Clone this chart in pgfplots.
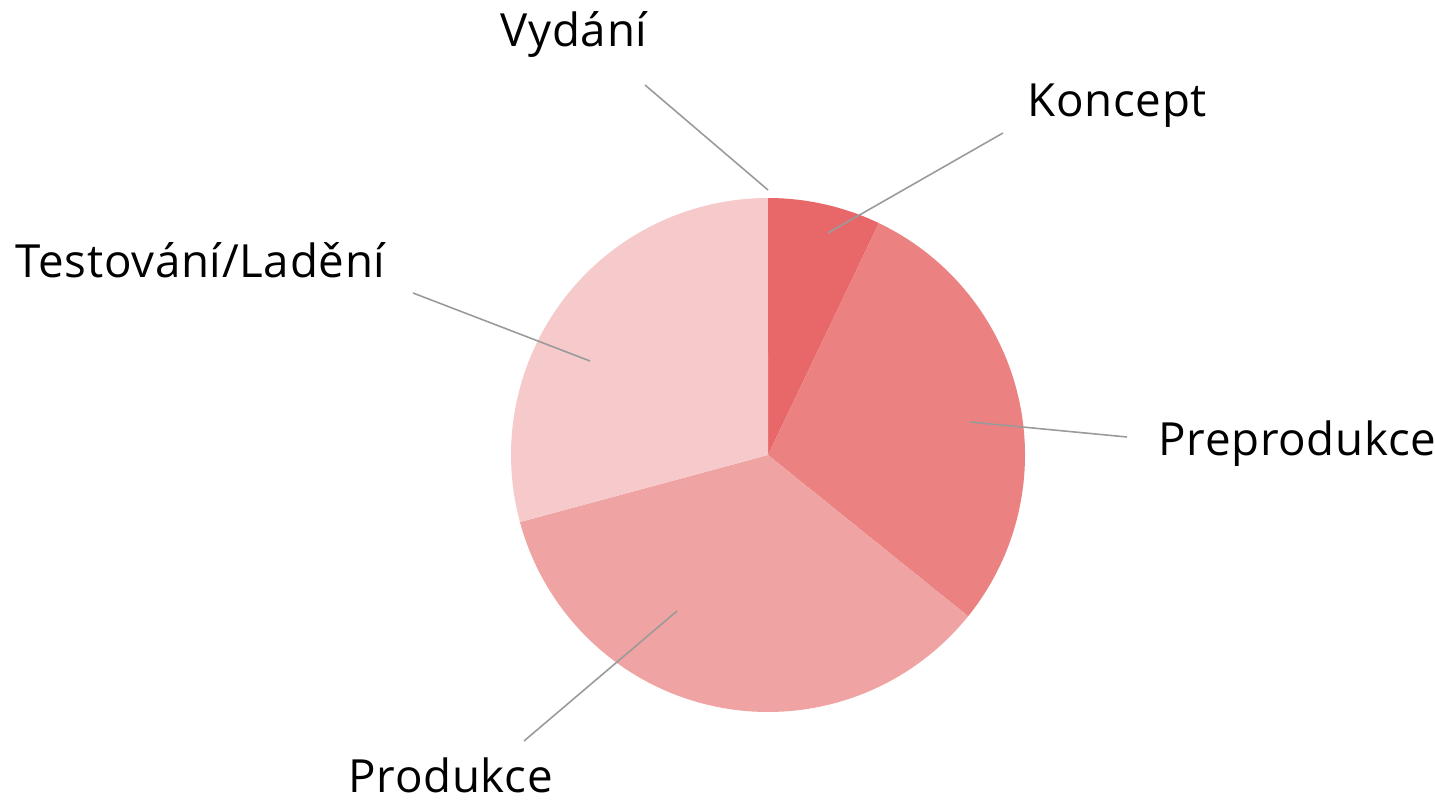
\documentclass[border=0pt]{standalone}
\usepackage{fontspec}
\setmainfont[LetterSpace=1.5]{Open Sans}
\usepackage{pgfplots}
\pgfplotsset{compat=1.18}
\definecolor{cK}{HTML}{E8686A}
\definecolor{cP}{HTML}{EB8281}
\definecolor{cR}{HTML}{F0A3A3}
\definecolor{cT}{HTML}{F6CACB}
\definecolor{lead}{HTML}{9A9A9A}
% shares in percent, clockwise from 12 o'clock
\def\vK{7.1}   % Koncept
\def\vP{28.7}  % Preprodukce
\def\vR{35.0}  % Produkce
\def\vT{29.2}  % Testovani/Ladeni
\def\vV{0.0}   % Vydani
\pgfmathsetmacro\aA{0}
\pgfmathsetmacro\aB{\aA+3.6*\vK}
\pgfmathsetmacro\aC{\aB+3.6*\vP}
\pgfmathsetmacro\aD{\aC+3.6*\vR}
\pgfmathsetmacro\aE{\aD+3.6*\vT}
\begin{document}
\begin{tikzpicture}
\begin{axis}[x=0.1mm,y=0.1mm,xmin=0,xmax=1435,ymin=0,ymax=799,
  hide axis,clip=false,samples=100,anchor=origin,at={(0,0)}]
\addplot[fill=cK,draw=none,domain=\aA:\aB] ({768+257*sin(x)},{344+257*cos(x)}) -- (axis cs:768,344) -- cycle;
\addplot[fill=cP,draw=none,domain=\aB:\aC] ({768+257*sin(x)},{344+257*cos(x)}) -- (axis cs:768,344) -- cycle;
\addplot[fill=cR,draw=none,domain=\aC:\aD] ({768+257*sin(x)},{344+257*cos(x)}) -- (axis cs:768,344) -- cycle;
\addplot[fill=cT,draw=none,domain=\aD:\aE] ({768+257*sin(x)},{344+257*cos(x)}) -- (axis cs:768,344) -- cycle;
% leader lines
\addplot[lead,line width=0.45pt] coordinates {(768,609) (645,714)};
\addplot[lead,line width=0.45pt] coordinates {(828,566) (1003,666)};
\addplot[lead,line width=0.45pt] coordinates {(970,377) (1127,362)};
\addplot[lead,line width=0.45pt] coordinates {(677,188) (524,58)};
\addplot[lead,line width=0.45pt] coordinates {(590,438) (413,506)};
% labels
\begin{scope}[every node/.style={font=\fontsize{13}{15}\selectfont,inner sep=0pt,anchor=base west}]
\node at (axis cs:500,752) {Vydání};
\node at (axis cs:1027,682) {Koncept};
\node at (axis cs:1158,344) {Preprodukce};
\node at (axis cs:348,7) {Produkce};
\node at (axis cs:15,521) {Testování/Ladění};
\end{scope}
\end{axis}
\pgfresetboundingbox
\path[use as bounding box] (0,0) rectangle (143.5mm,79.9mm);
\end{tikzpicture}
\end{document}
